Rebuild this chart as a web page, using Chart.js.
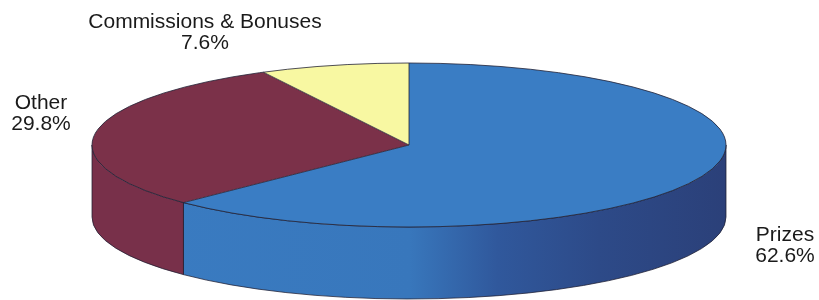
<!DOCTYPE html>
<html>
<head>
<meta charset="utf-8">
<script src="https://cdn.jsdelivr.net/npm/chart.js"></script>
<style>
  body { margin: 0; background: #fff; }
  #grafico { display: block; }
</style>
</head>
<body>
<canvas id="grafico" width="819" height="300"></canvas>
<script>
// dados do grafico
var categorias = ["Prizes", "Other", "Commissions & Bonuses"];
var percentuais = [62.6, 29.8, 7.6];

var coresTopo = ["#3a7dc4", "#7b3149", "#f8f8a2"];

// geometria da pizza 3D (elipse na tela)
var cx = 409, cy = 145, rx = 317, ry = 82, espessura = 72;

// onde cada rotulo fica (linha de base da primeira linha)
var posRotulos = [
    { x: 785, y: 241 },
    { x: 41, y: 109 },
    { x: 205, y: 28 }
];

function corLateral(ctx, i) {
    if (i == 0) {
        var g = ctx.createLinearGradient(cx - rx, 0, cx + rx, 0);
        g.addColorStop(0, "#3a7cc2");
        g.addColorStop(0.5, "#3877bc");
        g.addColorStop(0.64, "#30589c");
        g.addColorStop(0.8, "#2d4a88");
        g.addColorStop(1, "#2b4079");
        return g;
    }
    if (i == 1) return "#78304a";
    return "#e6e690";
}

var pizza3d = {
    id: "pizza3d",
    beforeDatasetsDraw: function (chart) {
        var ctx = chart.ctx;
        var arcs = chart.getDatasetMeta(0).data;

        // paredes laterais (so a metade da frente aparece)
        arcs.forEach(function (arc, i) {
            var s = Math.max(arc.startAngle, 0);
            var e = Math.min(arc.endAngle, Math.PI);
            if (e <= s) return;
            ctx.save();
            ctx.beginPath();
            ctx.ellipse(cx, cy, rx, ry, 0, s, e, false);
            ctx.ellipse(cx, cy + espessura, rx, ry, 0, e, s, true);
            ctx.closePath();
            ctx.fillStyle = corLateral(ctx, i);
            ctx.fill();
            ctx.strokeStyle = "rgba(30,30,50,0.75)";
            ctx.lineWidth = 1;
            ctx.stroke();
            ctx.restore();
        });

        // topo: circulo do Chart.js vira elipse
        var a = arcs[0];
        var r = a.outerRadius;
        ctx.save();
        ctx.translate(cx, cy);
        ctx.scale(rx / r, ry / r);
        ctx.translate(-a.x, -a.y);
    },
    afterDatasetsDraw: function (chart) {
        var ctx = chart.ctx;
        ctx.restore();
        var arcs = chart.getDatasetMeta(0).data;

        // contornos do topo
        ctx.save();
        ctx.strokeStyle = "rgba(35,35,55,0.8)";
        ctx.lineWidth = 1;
        arcs.forEach(function (arc) {
            ctx.beginPath();
            ctx.moveTo(cx, cy);
            ctx.lineTo(cx + rx * Math.cos(arc.startAngle), cy + ry * Math.sin(arc.startAngle));
            ctx.stroke();
        });
        ctx.beginPath();
        ctx.ellipse(cx, cy, rx, ry, 0, 0, Math.PI * 2);
        ctx.stroke();
        ctx.restore();

        // rotulos
        ctx.save();
        ctx.fillStyle = "#1a1a1a";
        ctx.font = "21px 'Liberation Sans', Arial, sans-serif";
        ctx.textAlign = "center";
        ctx.textBaseline = "alphabetic";
        categorias.forEach(function (nome, i) {
            var p = posRotulos[i];
            ctx.fillText(nome, p.x, p.y);
            ctx.fillText(percentuais[i].toFixed(1) + "%", p.x, p.y + 21);
        });
        ctx.restore();
    }
};

var config = {
    type: "pie",
    data: {
        labels: categorias,
        datasets: [{
            data: percentuais,
            backgroundColor: coresTopo,
            borderWidth: 0,
            clip: false
        }]
    },
    options: {
        responsive: false,
        animation: false,
        devicePixelRatio: 1,
        plugins: {
            legend: { display: false },
            tooltip: { enabled: false }
        }
    },
    plugins: [pizza3d]
};

var graficoPizza = new Chart(document.getElementById("grafico"), config);
</script>
</body>
</html>
